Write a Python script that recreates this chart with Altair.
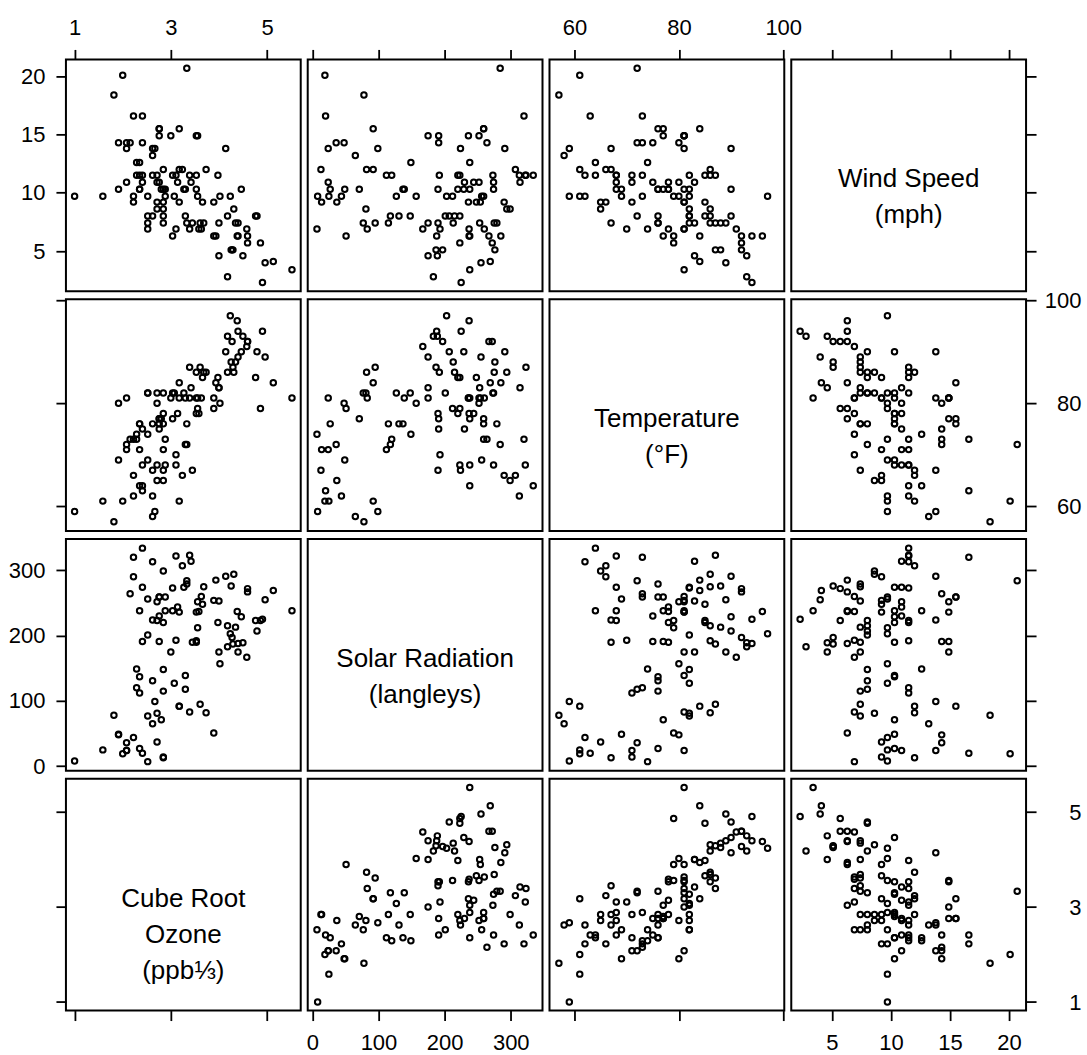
import altair as alt
import pandas as pd

# Daily air-quality measurements, 111 days with complete records.
cube_root_ozone = [
    3.448, 3.302, 2.289, 2.621, 2.844, 2.668, 2.000, 2.520, 2.224, 2.410,
    2.621, 2.410, 3.240, 1.817, 3.107, 2.224, 1.000, 2.224, 1.587, 3.175,
    2.844, 3.557, 4.863, 3.332, 3.072, 4.141, 3.391, 2.844, 2.759, 3.332,
    2.714, 2.289, 2.351, 5.130, 3.659, 3.175, 4.000, 3.420, 4.254, 4.595,
    4.595, 4.397, 2.154, 3.000, 1.913, 3.634, 3.271, 3.936, 4.291, 3.979,
    2.520, 4.309, 4.762, 2.714, 3.733, 4.345, 3.684, 4.000, 3.893, 3.391,
    2.080, 2.520, 4.960, 4.465, 4.791, 3.530, 3.037, 4.021, 2.802, 3.893,
    2.844, 3.141, 3.530, 2.759, 2.080, 3.557, 5.518, 4.179, 4.236, 4.905,
    4.380, 4.397, 4.579, 4.273, 4.179, 4.498, 3.609, 3.175, 2.714, 2.844,
    2.759, 2.884, 3.530, 2.759, 3.037, 2.080, 2.351, 3.583, 2.621, 2.351,
    2.884, 2.520, 2.351, 2.844, 3.302, 1.913, 2.410, 3.107, 2.410, 2.621,
    2.714,
]
radiation = [
    190, 118, 149, 313, 299, 99, 19, 256, 290, 274,
    65, 334, 307, 78, 322, 44, 8, 320, 25, 92,
    13, 252, 223, 279, 127, 291, 323, 148, 191, 284,
    37, 120, 137, 269, 248, 236, 175, 314, 276, 267,
    272, 175, 264, 175, 48, 260, 274, 285, 187, 220,
    7, 294, 223, 81, 82, 213, 275, 253, 254, 83,
    24, 77, 255, 229, 207, 192, 273, 157, 71, 51,
    115, 244, 190, 259, 36, 212, 238, 215, 203, 225,
    237, 188, 167, 197, 183, 189, 95, 92, 252, 220,
    230, 259, 236, 259, 238, 24, 112, 237, 224, 27,
    238, 201, 238, 14, 139, 49, 20, 193, 191, 131,
    223,
]
temperature = [
    67, 72, 74, 62, 65, 59, 61, 69, 66, 68,
    58, 64, 66, 57, 68, 62, 59, 73, 61, 61,
    67, 81, 79, 76, 82, 90, 87, 82, 77, 72,
    65, 73, 76, 84, 85, 81, 83, 83, 88, 92,
    92, 89, 73, 81, 80, 81, 82, 84, 87, 85,
    74, 86, 85, 82, 86, 88, 86, 83, 81, 81,
    81, 82, 89, 90, 90, 86, 82, 80, 77, 79,
    76, 78, 78, 77, 72, 79, 81, 86, 97, 94,
    96, 94, 91, 92, 93, 93, 87, 84, 80, 78,
    75, 73, 81, 76, 77, 71, 71, 78, 67, 76,
    68, 82, 64, 71, 81, 69, 63, 70, 75, 76,
    68,
]
wind_speed = [
    7.4, 8.0, 12.6, 11.5, 8.6, 13.8, 20.1, 9.7, 9.2, 10.9,
    13.2, 11.5, 12.0, 18.4, 11.5, 9.7, 9.7, 16.6, 9.7, 12.0,
    12.0, 14.9, 5.7, 7.4, 9.7, 13.8, 11.5, 8.0, 14.9, 20.7,
    9.2, 11.5, 10.3, 4.1, 9.2, 9.2, 4.6, 10.9, 5.1, 6.3,
    5.7, 7.4, 14.3, 14.9, 14.3, 6.9, 10.3, 6.3, 5.1, 11.5,
    6.9, 8.6, 8.0, 8.6, 12.0, 7.4, 7.4, 7.4, 9.2, 6.9,
    13.8, 7.4, 4.0, 10.3, 8.0, 11.5, 11.5, 9.7, 10.3, 6.3,
    7.4, 10.9, 10.3, 15.5, 14.3, 9.7, 3.4, 8.0, 9.7, 2.3,
    6.3, 6.3, 6.9, 5.1, 2.8, 4.6, 7.4, 15.5, 10.9, 10.3,
    10.9, 9.7, 14.9, 15.5, 6.3, 10.9, 11.5, 6.9, 13.8, 10.3,
    10.3, 8.0, 12.6, 9.2, 10.3, 10.3, 16.6, 6.9, 14.3, 8.0,
    11.5,
]

df = pd.DataFrame({
    "ozone": cube_root_ozone,
    "radiation": radiation,
    "temperature": temperature,
    "wind": wind_speed,
})

# Columns left to right, rows top to bottom (diagonal runs bottom-left to top-right)
col_vars = ["ozone", "radiation", "temperature", "wind"]
row_vars = ["wind", "temperature", "radiation", "ozone"]

domains = {
    "ozone": [0.82, 5.70],
    "radiation": [-7, 348],
    "temperature": [55.2, 100.2],
    "wind": [1.55, 21.45],
}
tick_values = {
    "ozone": [1, 3, 5],
    "radiation": [0, 100, 200, 300],
    "temperature": [60, 80, 100],
    "wind": [5, 10, 15, 20],
}
names = {
    "wind": "Wind Speed\n(mph)",
    "temperature": "Temperature\n(°F)",
    "radiation": "Solar Radiation\n(langleys)",
    "ozone": "Cube Root\nOzone\n(ppb⅓)",
}

PW, PH = 235, 232
FONT = "Liberation Sans"


def make_axis(orient, var, show_labels):
    pad = {"top": 10, "bottom": 12, "left": 11, "right": 45}[orient]
    opts = dict(
        orient=orient, values=tick_values[var], labels=show_labels,
        ticks=True, tickSize=10, tickWidth=1.8, tickColor="black",
        domain=False, grid=False, title=None,
        labelFont=FONT, labelFontSize=22, labelColor="black",
        labelPadding=pad, labelFlush=False, labelOverlap=False,
    )
    if orient == "right":
        opts["labelAlign"] = "right"
    return alt.Axis(**opts)


def panel(r, c):
    xv, yv = col_vars[c], row_vars[r]
    if r == 0:
        xaxis = make_axis("top", xv, c % 2 == 0)
    elif r == 3:
        xaxis = make_axis("bottom", xv, c % 2 == 1)
    else:
        xaxis = None
    if c == 0:
        yaxis = make_axis("left", yv, r % 2 == 0)
    elif c == 3:
        yaxis = make_axis("right", yv, r % 2 == 1)
    else:
        yaxis = None

    x = alt.X(f"{xv}:Q", scale=alt.Scale(domain=domains[xv], nice=False, zero=False), axis=xaxis)
    y = alt.Y(f"{yv}:Q", scale=alt.Scale(domain=domains[yv], nice=False, zero=False), axis=yaxis)

    if xv == yv:
        frame = alt.Chart(df).mark_point(opacity=0).encode(x=x, y=y)
        label = alt.Chart(pd.DataFrame({"name": [names[xv]]})).mark_text(
            font=FONT, fontSize=26, lineBreak="\n", lineHeight=36,
            align="center", baseline="middle", color="black",
        ).encode(text="name:N", x=alt.value(PW / 2), y=alt.value(PH / 2 + 4))
        return alt.layer(frame, label).properties(width=PW, height=PH)

    return alt.Chart(df).mark_point(
        shape="circle", filled=False, size=30, strokeWidth=2,
        color="black", opacity=1,
    ).encode(x=x, y=y).properties(width=PW, height=PH)


chart = alt.concat(
    *[panel(r, c) for r in range(4) for c in range(4)],
    columns=4,
    spacing={"row": 8, "column": 7},
    bounds="flush",
).properties(
    padding={"left": 7, "top": 15, "right": 5, "bottom": 2},
    background="white",
).configure_view(stroke="black", strokeWidth=2)

chart.save("out.html", embed_options={"renderer": "svg", "actions": False})
